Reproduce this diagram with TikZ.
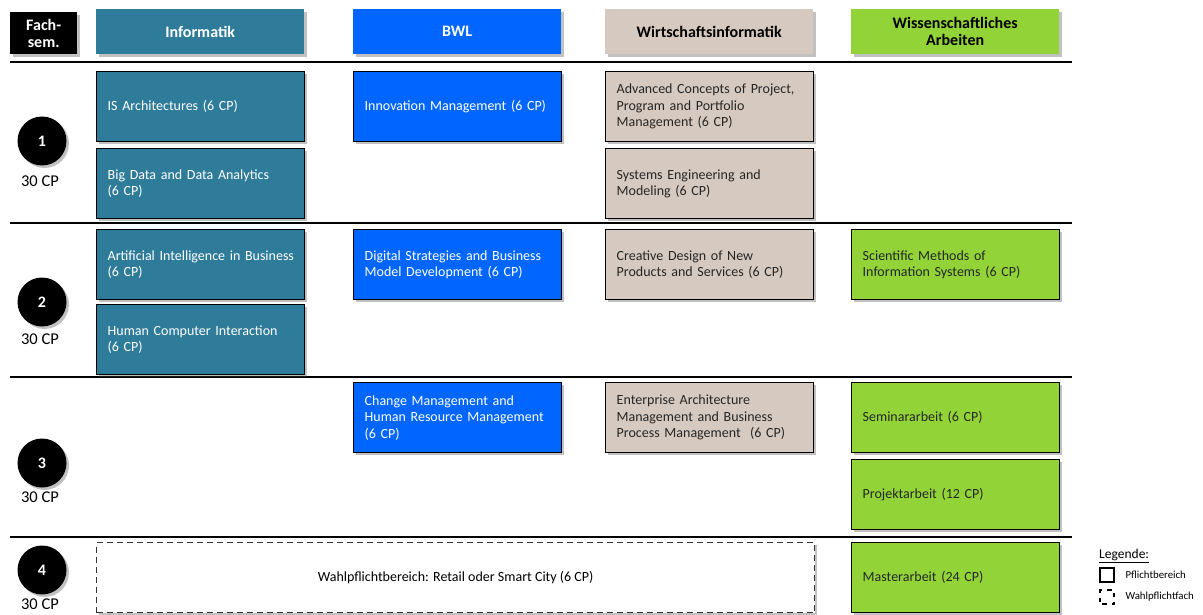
\documentclass[tikz,border=0pt]{standalone}
\usepackage{fontspec}
\setmainfont{Carlito}
\usetikzlibrary{shadows}
\definecolor{cinf}{RGB}{47,124,154}
\definecolor{cbwl}{RGB}{0,102,255}
\definecolor{cwi}{RGB}{214,201,191}
\definecolor{cwa}{RGB}{146,212,56}
\tikzset{
  shad/.style={drop shadow={shadow xshift=2.5pt,shadow yshift=-2.5pt,opacity=0.35,fill=black!70}},
  hdr/.style={shad,anchor=north west,minimum width=208pt,minimum height=45pt,inner sep=0pt,align=center,font=\fontsize{16}{17}\selectfont\bfseries},
  course/.style={shad,draw=black,line width=1.4pt,anchor=north west,minimum height=70pt,text width=186pt,inner xsep=11pt,inner ysep=0pt,align=left,font=\fontsize{14}{16.5}\selectfont},
  semcircle/.style={shad,circle,fill=black,minimum size=49pt,inner sep=0pt,text=white,font=\fontsize{16}{17}\selectfont\bfseries},
  cptext/.style={font=\fontsize{16.5}{17}\selectfont},
  rowline/.style={line width=1.8pt,black},
  leg/.style={font=\fontsize{10.8}{12}\selectfont,anchor=west}
}
\begin{document}
\begin{tikzpicture}[x=1pt,y=-1pt]
\useasboundingbox (0,0) rectangle (1203,615);
% header
\node[shad,fill=black,text=white,anchor=north west,minimum width=67pt,minimum height=42pt,inner sep=0pt,align=center,font=\fontsize{16}{17}\selectfont\bfseries] (fs) at (10,12) {Fach-\\sem.};
\node[hdr,fill=cinf,text=white] (hinf) at (96,9) {Informatik};
\node[hdr,fill=cbwl,text=white] (hbwl) at (353,9) {BWL};
\node[hdr,fill=cwi,text=black] (hwi) at (605,9) {Wirtschaftsinformatik};
\node[hdr,fill=cwa,text=black] (hwa) at (851,9) {Wissenschaftliches\\Arbeiten};
% row lines
\coordinate (l1a) at (10,62); \coordinate (l1b) at (1072,62);
\coordinate (l2a) at (10,223); \coordinate (l2b) at (1072,223);
\coordinate (l3a) at (10,377); \coordinate (l3b) at (1072,377);
\coordinate (l4a) at (10,537); \coordinate (l4b) at (1072,537);
\draw[rowline] (l1a) -- (l1b);
\draw[rowline] (l2a) -- (l2b);
\draw[rowline] (l3a) -- (l3b);
\draw[rowline] (l4a) -- (l4b);
% semester markers
\node[semcircle] (s1) at (42,141) {1};
\node[cptext] (cp1) at (40,181) {30 CP};
\node[semcircle] (s2) at (42,302) {2};
\node[cptext] (cp2) at (40,339) {30 CP};
\node[semcircle] (s3) at (42,463) {3};
\node[cptext] (cp3) at (40,497) {30 CP};
\node[semcircle] (s4) at (42,570) {4};
\node[cptext] (cp4) at (40,604) {30 CP};
% semester 1
\node[course,fill=cinf,text=white] (isa) at (96,71) {IS Architectures (6 CP)};
\node[course,fill=cinf,text=white] (bd) at (96,148) {Big Data and Data Analytics\\(6 CP)};
\node[course,fill=cbwl,text=white] (im) at (353,71) {Innovation Management (6 CP)};
\node[course,fill=cwi,text=black!85] (ac) at (605,71) {Advanced Concepts of Project,\\Program and Portfolio\\Management (6 CP)};
\node[course,fill=cwi,text=black!85] (se) at (605,148) {Systems Engineering and\\Modeling (6 CP)};
% semester 2
\node[course,fill=cinf,text=white] (ai) at (96,229) {\mbox{Artificial Intelligence in Business}\\(6 CP)};
\node[course,fill=cinf,text=white] (hci) at (96,304) {Human Computer Interaction\\(6 CP)};
\node[course,fill=cbwl,text=white] (ds) at (353,229) {Digital Strategies and Business\\Model Development (6 CP)};
\node[course,fill=cwi,text=black!85] (cd) at (605,229) {Creative Design of New\\Products and Services (6 CP)};
\node[course,fill=cwa,text=black!85] (sm) at (851,229) {Scientific Methods of\\Information Systems (6 CP)};
% semester 3
\node[course,fill=cbwl,text=white] (cm) at (353,382) {Change Management and\\\mbox{Human Resource Management}\\(6 CP)};
\node[course,fill=cwi,text=black!85] (ea) at (605,382) {Enterprise Architecture\\Management and Business\\Process Management~~(6 CP)};
\node[course,fill=cwa,text=black!85] (sa) at (851,382) {Seminararbeit (6 CP)};
\node[course,fill=cwa,text=black!85] (pa) at (851,459) {Projektarbeit (12 CP)};
% semester 4
\node[shad,draw=black!80,fill=white,dash pattern=on 6pt off 4pt,line width=1.2pt,anchor=north west,minimum width=718pt,minimum height=70pt,inner sep=0pt,align=center,font=\fontsize{14}{16.5}\selectfont] (wp) at (96,542) {Wahlpflichtbereich: Retail oder Smart City (6 CP)};
\node[course,fill=cwa,text=black!85] (ma) at (851,542) {Masterarbeit (24 CP)};
% legend
\node[anchor=west,font=\fontsize{13.5}{14}\selectfont,inner sep=0pt] (lg) at (1099,556) {\underline{Legende:}};
\node[draw=black,line width=1.2pt,minimum size=14pt,inner sep=0pt] (lsolid) at (1107,575) {};
\node[leg] (lpb) at (1122,575) {Pflichtbereich};
\node[draw=black,dash pattern=on 4.5pt off 5pt,dash phase=-2pt,line width=1.2pt,minimum size=14pt,inner sep=0pt] (ldash) at (1107,597) {};
\node[leg] (lwf) at (1122,597) {Wahlpflichtfach};
\end{tikzpicture}
\end{document}
